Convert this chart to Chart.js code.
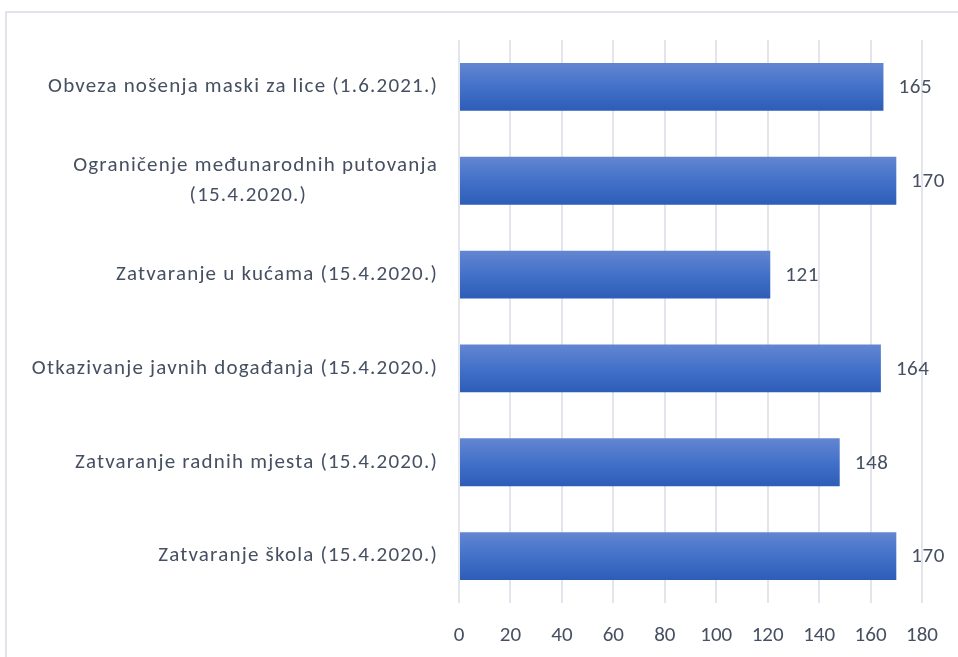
<!DOCTYPE html>
<html>
<head>
<meta charset="utf-8">
<script src="https://cdn.jsdelivr.net/npm/chart.js@4.4.1/dist/chart.umd.min.js"></script>
<style>
  html, body { margin: 0; padding: 0; background: #ffffff; }
  body { width: 958px; height: 657px; position: relative; overflow: hidden; }
  #frame { position: absolute; left: 5px; top: 11px; width: 1000px; height: 700px;
           border-left: 2px solid #E1E4EA; border-top: 2px solid #E1E4EA; box-sizing: border-box; }
  #c { position: absolute; left: 0; top: 0; }
</style>
</head>
<body>
<div id="frame"></div>
<canvas id="c" width="958" height="657"></canvas>
<script>
const categories = [
  "Obveza nošenja maski za lice (1.6.2021.)",
  ["Ograničenje međunarodnih putovanja", "(15.4.2020.)" + " ".repeat(22)],
  "Zatvaranje u kućama (15.4.2020.)",
  "Otkazivanje javnih događanja (15.4.2020.)",
  "Zatvaranje radnih mjesta (15.4.2020.)",
  "Zatvaranje škola (15.4.2020.)"
];
const values = [165, 170, 121, 164, 148, 170];
const xTickMin = 0;
const xTickMax = 180;
const xTickStep = 20;

const FONT = "Carlito, Lato, 'Liberation Sans', sans-serif";
const TEXT = "#465062";
const GRID = "#E2E5EB";
const BAR_PCT = 0.51;

function barGradient(c) {
  const chart = c.chart;
  const ys = chart.scales && chart.scales.y;
  if (!ys || c.dataIndex === undefined || !isFinite(ys.height) || ys.height <= 0) return "#4472C4";
  const center = ys.getPixelForValue(c.dataIndex);
  const half = (ys.height / categories.length) * BAR_PCT / 2;
  const g = chart.ctx.createLinearGradient(0, center - half, 0, center + half);
  g.addColorStop(0, "#6386D1");
  g.addColorStop(0.5, "#4371C9");
  g.addColorStop(1, "#2D5DB7");
  return g;
}

const textSpacing = {
  id: "textSpacing",
  beforeDraw(chart) {
    chart.ctx.letterSpacing = "0px";      // x tick labels (drawn before bars)
  },
  afterDatasetsDraw(chart) {
    const ctx = chart.ctx;
    const meta = chart.getDatasetMeta(0);
    ctx.save();
    ctx.letterSpacing = "0.6px";
    ctx.font = "21px " + FONT;
    ctx.fillStyle = TEXT;
    ctx.textAlign = "left";
    ctx.textBaseline = "middle";
    meta.data.forEach((el, i) => {
      ctx.fillText(String(values[i]), el.x + 15, el.y + 1);
    });
    ctx.restore();
    ctx.letterSpacing = "1.2px";          // category labels (drawn after bars, z=1)
  },
  afterDraw(chart) {
    chart.ctx.letterSpacing = "0px";
  }
};

new Chart(document.getElementById("c"), {
  type: "bar",
  data: {
    labels: categories,
    datasets: [{
      data: values,
      backgroundColor: barGradient,
      borderWidth: 0,
      barPercentage: BAR_PCT,
      categoryPercentage: 1
    }]
  },
  options: {
    indexAxis: "y",
    responsive: false,
    animation: false,
    devicePixelRatio: 1,
    layout: { padding: { left: 0, top: 40, right: 35, bottom: 0 } },
    plugins: { legend: { display: false }, tooltip: { enabled: false } },
    scales: {
      x: {
        position: "bottom",
        min: xTickMin,
        max: xTickMax,
        ticks: { stepSize: xTickStep, color: TEXT, font: { family: FONT, size: 21 }, padding: 20 },
        grid: { color: GRID, lineWidth: 2, drawTicks: false },
        border: { display: false },
        afterFit(scale) { scale.height = 54; }
      },
      y: {
        ticks: { color: TEXT, font: { family: FONT, size: 21, lineHeight: 1.4 }, padding: 21, autoSkip: false, z: 1 },
        grid: { display: false, drawTicks: false },
        border: { display: false },
        afterFit(scale) { scale.width = 459; }
      }
    }
  },
  plugins: [textSpacing]
});
</script>
</body>
</html>
